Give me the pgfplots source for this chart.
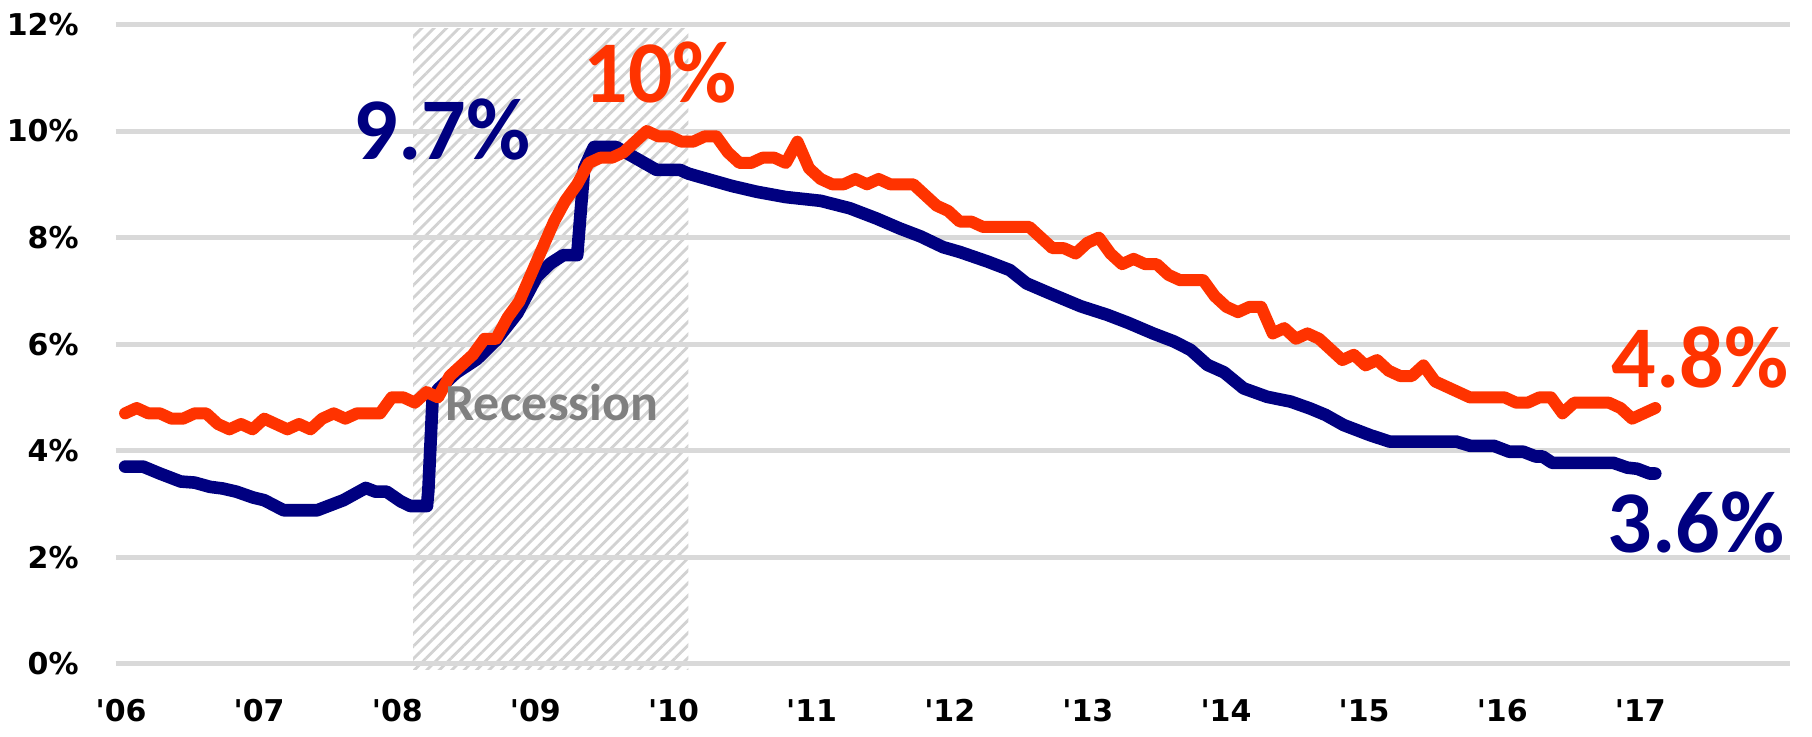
\documentclass[border=0pt]{standalone}
\usepackage{fontspec}
\setmainfont{Carlito}
\newfontfamily\tickfont{DejaVu Sans}
\usepackage{pgfplots}
\pgfplotsset{compat=1.18}
\usetikzlibrary{patterns.meta}
\definecolor{navy}{RGB}{0,0,128}
\definecolor{orng}{RGB}{255,51,0}
\definecolor{gridgray}{RGB}{217,217,217}
\definecolor{stripe}{RGB}{210,210,210}
\definecolor{recgray}{RGB}{128,128,128}
\begin{document}
\begin{tikzpicture}
\begin{axis}[
  set layers,
  scale only axis, width=837.3pt, height=319.6pt,
  xmin=-0.82, xmax=143.64, ymin=0, ymax=12,
  axis line style={draw=none}, tick style={draw=none}, major tick length=0pt,
  ymajorgrids, grid style={line width=2.5pt, gridgray},
  ytick={0,2,4,6,8,10,12},
  yticklabels={0\%,2\%,4\%,6\%,8\%,10\%,12\%},
  xtick={-0.35,11.56,23.48,35.39,47.31,59.22,71.14,83.05,94.97,106.88,118.80,130.71},
  xticklabels={\symbol{39}06,\symbol{39}07,\symbol{39}08,\symbol{39}09,\symbol{39}10,\symbol{39}11,\symbol{39}12,\symbol{39}13,\symbol{39}14,\symbol{39}15,\symbol{39}16,\symbol{39}17},
  ticklabel style={font=\tickfont\bfseries\fontsize{15}{15}\selectfont, text=black, inner sep=0pt},
  yticklabel style={anchor=east, xshift=-18.3pt},
  xticklabel style={anchor=base, yshift=-28.7pt},
  clip=false,
]
% recession shading
\addplot[on layer=axis background, draw=none, pattern={Lines[angle=45,distance=4.4pt,line width=1.4pt]}, pattern color=stripe]
  coordinates {(24.84,-0.1) (48.6,-0.1) (48.6,11.93) (24.84,11.93)} -- cycle;

% navy series
\addplot[navy, line width=6.3pt, line join=round, line cap=round] coordinates {
(0,3.70) (1.56,3.70) (3,3.57) (4.8,3.42) (6,3.40) (7.32,3.32) (8.4,3.29) (9.6,3.23) (11.04,3.12) (12,3.07)
(13.68,2.88) (16.56,2.88) (18.84,3.07) (20.76,3.30) (21.6,3.23) (22.56,3.23) (23.76,3.05) (24.6,2.96) (26.04,2.96)
(26.16,3.25) (26.52,4.95) (27,5.15) (28.56,5.46) (30.36,5.72) (32.04,6.08) (33.84,6.58) (35.52,7.27) (36.72,7.52)
(37.8,7.67) (39,7.67) (39.6,9.3) (40.44,9.70) (42.36,9.70) (45.84,9.27) (47.88,9.27) (48.6,9.2) (49.56,9.14)
(52.32,8.97) (54.48,8.86) (57,8.76) (60,8.69) (62.52,8.55) (64.8,8.36) (66.84,8.17) (68.64,8.02) (70.56,7.82)
(72,7.73) (74.4,7.55) (76.32,7.39) (77.76,7.14) (79.8,6.95) (82.44,6.71) (84.72,6.55) (86.52,6.40) (88.68,6.20)
(90.48,6.05) (91.92,5.89) (93.36,5.61) (94.8,5.47) (96.48,5.17) (98.52,5.01) (100.56,4.92) (102.24,4.79)
(103.56,4.67) (105.12,4.48) (107.4,4.29) (109.08,4.17) (114.84,4.17) (116.04,4.09) (118.08,4.09) (119.4,3.98)
(120.6,3.98) (121.68,3.89) (122.28,3.89) (123.12,3.77) (128.4,3.77) (129.6,3.68) (130.44,3.66) (131.52,3.57) (132,3.57)
};

% orange series
\addplot[orng, line width=6.0pt, line join=round, line cap=round] coordinates {
(0,4.7) (1,4.8) (2,4.7) (3,4.7) (4,4.6) (5,4.6) (6,4.7) (7,4.7) (8,4.5) (9,4.4) (10,4.5) (11,4.4)
(12,4.6) (13,4.5) (14,4.4) (15,4.5) (16,4.4) (17,4.6) (18,4.7) (19,4.6) (20,4.7) (21,4.7) (22,4.7) (23,5.0)
(24,5.0) (25,4.9) (26,5.1) (27,5.0) (28,5.4) (29,5.6) (30,5.8) (31,6.1) (32,6.1) (33,6.5) (34,6.8) (35,7.3)
(36,7.8) (37,8.3) (38,8.7) (39,9.0) (40,9.4) (41,9.5) (42,9.5) (43,9.6) (44,9.8) (45,10.0) (46,9.9) (47,9.9)
(48,9.8) (49,9.8) (50,9.9) (51,9.9) (52,9.6) (53,9.4) (54,9.4) (55,9.5) (56,9.5) (57,9.4) (58,9.8) (59,9.3)
(60,9.1) (61,9.0) (62,9.0) (63,9.1) (64,9.0) (65,9.1) (66,9.0) (67,9.0) (68,9.0) (69,8.8) (70,8.6) (71,8.5)
(72,8.3) (73,8.3) (74,8.2) (75,8.2) (76,8.2) (77,8.2) (78,8.2) (79,8.0) (80,7.8) (81,7.8) (82,7.7) (83,7.9)
(84,8.0) (85,7.7) (86,7.5) (87,7.6) (88,7.5) (89,7.5) (90,7.3) (91,7.2) (92,7.2) (93,7.2) (94,6.9) (95,6.7)
(96,6.6) (97,6.7) (98,6.7) (99,6.2) (100,6.3) (101,6.1) (102,6.2) (103,6.1) (104,5.9) (105,5.7) (106,5.8) (107,5.6)
(108,5.7) (109,5.5) (110,5.4) (111,5.4) (112,5.6) (113,5.3) (114,5.2) (115,5.1) (116,5.0) (117,5.0) (118,5.0) (119,5.0)
(120,4.9) (121,4.9) (122,5.0) (123,5.0) (124,4.7) (125,4.9) (126,4.9) (127,4.9) (128,4.9) (129,4.8) (130,4.6) (131,4.7)
(132,4.8)
};

\node[anchor=base west, inner sep=0pt, text=recgray, font=\bfseries\fontsize{26}{26}\selectfont] at (axis cs:27.6,4.56) {Recession};
\node[anchor=base west, inner sep=0pt, text=navy, font=\bfseries\fontsize{44}{44}\selectfont] at (axis cs:19.7,9.46) {9.7\%};
\node[anchor=base west, inner sep=0pt, text=orng, font=\bfseries\fontsize{44}{44}\selectfont] at (axis cs:39.5,10.54) {10\%};
\node[anchor=base east, inner sep=0pt, text=orng, font=\bfseries\fontsize{44}{44}\selectfont] at (axis cs:143.52,5.18) {4.8\%};
\node[anchor=base east, inner sep=0pt, text=navy, font=\bfseries\fontsize{44}{44}\selectfont] at (axis cs:143.16,2.08) {3.6\%};
\end{axis}
\pgfresetboundingbox
\path[use as bounding box] (-57.8pt,-36.15pt) rectangle (848.2pt,331.85pt);
\end{tikzpicture}
\end{document}
